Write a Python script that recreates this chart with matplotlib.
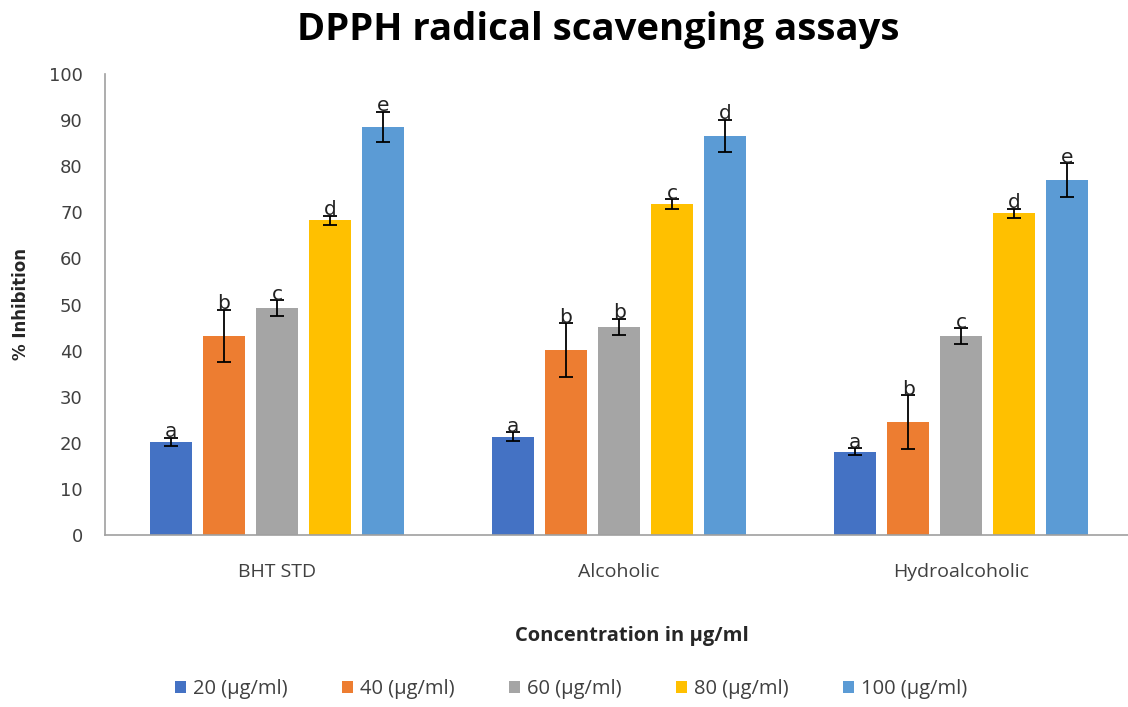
import matplotlib
matplotlib.use("Agg")
import matplotlib.pyplot as plt
import numpy as np

categories = ["BHT STD", "Alcoholic", "Hydroalcoholic"]
series_names = ["20 (µg/ml)", "40 (µg/ml)", "60 (µg/ml)", "80 (µg/ml)", "100 (µg/ml)"]
values = [
    [20.2, 21.3, 18.1],   # 20
    [43.2, 40.1, 24.5],   # 40
    [49.2, 45.1, 43.2],   # 60
    [68.3, 71.8, 69.8],   # 80
    [88.5, 86.6, 77.0],   # 100
]
errors = [
    [0.9, 1.0, 0.7],
    [5.7, 5.8, 5.8],
    [1.8, 1.8, 1.7],
    [1.0, 1.0, 1.0],
    [3.3, 3.5, 3.7],
]
letters = [
    ["a", "a", "a"],
    ["b", "b", "b"],
    ["c", "b", "c"],
    ["d", "c", "d"],
    ["e", "d", "e"],
]
colors = ["#4472C4", "#ED7D31", "#A5A5A5", "#FFC000", "#5B9BD5"]
yticks = list(range(0, 101, 10))

fig = plt.figure(figsize=(11.28, 7.07), dpi=100)
ax_left = 105 / 1128
ax = fig.add_axes([ax_left, 1 - 535/707, 1 - ax_left, (535 - 74)/707])

x = np.arange(len(categories))
width = 0.123
step = 0.155
for i, (vals, errs, labs, col, name) in enumerate(zip(values, errors, letters, colors, series_names)):
    pos = x + (i - 2) * step
    ax.bar(pos, vals, width=width, color=col, label=name, zorder=2)
    ax.errorbar(pos, vals, yerr=errs, fmt="none", ecolor="black", elinewidth=1.3,
                capsize=5, capthick=1.3, zorder=3)
    for p, v, e, l in zip(pos, vals, errs, labs):
        ax.text(p, v + e - 0.8, l, ha="center", va="bottom", fontsize=14.5,
                family="DejaVu Sans", color="#222222", zorder=4)

ax.set_xlim(-0.503, 2.488)
ax.set_ylim(0, 100)
ax.set_yticks(yticks)
ax.set_xticks(x)
ax.set_xticklabels(categories, family="Open Sans", fontsize=14, color="#404040")
for t in ax.get_yticklabels():
    t.set_family("DejaVu Sans")
    t.set_fontsize(13)
    t.set_color("#404040")
ax.tick_params(axis="both", length=0)
ax.tick_params(axis="x", pad=20)
ax.tick_params(axis="y", pad=16)
for s in ["top", "right"]:
    ax.spines[s].set_visible(False)
for s in ["left", "bottom"]:
    ax.spines[s].set_color("#A0A0A0")
    ax.spines[s].set_linewidth(1.2)

ax.set_ylabel("% Inhibition", family="DejaVu Sans", fontweight="bold", fontsize=12,
              color="#262626")
ax.yaxis.set_label_coords((30 - 105) / (1128 - 105), 0.5)
fig.text(632 / 1128, 1 - 636/707, "Concentration in µg/ml", ha="center", va="center",
         family="Open Sans", fontweight="bold", fontsize=14.5, color="#262626")
fig.text(598 / 1128, 1 - 30/707, "DPPH radical scavenging assays", ha="center", va="center",
         family="Open Sans", fontweight="bold", fontsize=27.5, color="#000000")

leg = fig.legend(loc="center", bbox_to_anchor=(571 / 1128, 1 - 689/707), ncol=5, frameon=False,
                 prop={"family": "Open Sans", "size": 14.5}, handlelength=0.55, handleheight=0.55,
                 handletextpad=0.35, columnspacing=2.7)
for t in leg.get_texts():
    t.set_color("#404040")

fig.savefig("out.png", dpi=100)
